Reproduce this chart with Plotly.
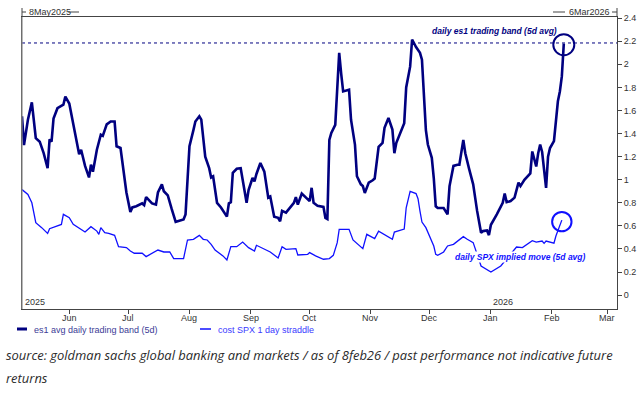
import plotly.graph_objects as go

# ---------------- data ----------------
es1_dates = [
    "2025-05-08","2025-05-09","2025-05-11","2025-05-13","2025-05-15","2025-05-17","2025-05-19",
    "2025-05-21","2025-05-22","2025-05-23","2025-05-24","2025-05-26","2025-05-29","2025-05-30",
    "2025-06-01","2025-06-03","2025-06-06","2025-06-07","2025-06-09","2025-06-11","2025-06-12",
    "2025-06-13","2025-06-15","2025-06-17","2025-06-18","2025-06-20","2025-06-22","2025-06-24",
    "2025-06-25","2025-06-27","2025-06-29","2025-06-30",
    "2025-07-02","2025-07-03","2025-07-05","2025-07-08","2025-07-09","2025-07-10","2025-07-13",
    "2025-07-15","2025-07-16","2025-07-18","2025-07-19","2025-07-21","2025-07-23","2025-07-25",
    "2025-07-26","2025-07-29","2025-07-30",
    "2025-08-01","2025-08-03","2025-08-04","2025-08-06","2025-08-07","2025-08-09","2025-08-11",
    "2025-08-12","2025-08-13","2025-08-15","2025-08-17","2025-08-20","2025-08-21","2025-08-22",
    "2025-08-23","2025-08-25","2025-08-27","2025-08-28","2025-08-30","2025-08-31",
    "2025-09-02","2025-09-03","2025-09-04","2025-09-06","2025-09-08","2025-09-10","2025-09-11",
    "2025-09-13","2025-09-15","2025-09-16","2025-09-17","2025-09-19","2025-09-21","2025-09-23",
    "2025-09-24","2025-09-25","2025-09-27","2025-09-29",
    "2025-10-01","2025-10-02","2025-10-03","2025-10-05","2025-10-08","2025-10-09","2025-10-10",
    "2025-10-11","2025-10-12","2025-10-14","2025-10-15","2025-10-16","2025-10-17","2025-10-18",
    "2025-10-21","2025-10-22","2025-10-24","2025-10-25","2025-10-27","2025-10-28","2025-10-29",
    "2025-10-30","2025-10-31",
    "2025-11-02","2025-11-03","2025-11-05","2025-11-07","2025-11-08","2025-11-10","2025-11-12",
    "2025-11-13","2025-11-14","2025-11-16","2025-11-18","2025-11-19","2025-11-21","2025-11-22",
    "2025-11-24","2025-11-26","2025-11-27","2025-11-29","2025-11-30",
    "2025-12-02","2025-12-03","2025-12-04","2025-12-05","2025-12-08","2025-12-10","2025-12-11",
    "2025-12-13","2025-12-15","2025-12-16","2025-12-18","2025-12-19","2025-12-21","2025-12-22",
    "2025-12-23","2025-12-25","2025-12-27","2025-12-28","2025-12-30","2025-12-31",
    "2026-01-01","2026-01-04","2026-01-07","2026-01-08","2026-01-09","2026-01-11","2026-01-13",
    "2026-01-15","2026-01-16","2026-01-18","2026-01-21","2026-01-22","2026-01-23","2026-01-24",
    "2026-01-25","2026-01-26","2026-01-27","2026-01-28","2026-01-29","2026-01-30","2026-01-31",
    "2026-02-02","2026-02-03","2026-02-04","2026-02-05","2026-02-06","2026-02-07",
]
es1_values = [
    1.55, 1.30, 1.52, 1.67, 1.36, 1.33, 1.23, 1.10, 1.35, 1.33, 1.53, 1.62, 1.65, 1.72,
    1.66, 1.49, 1.22, 1.26, 1.12, 1.02, 1.13, 1.07, 1.26, 1.39, 1.38, 1.48, 1.505, 1.505,
    1.29, 1.275, 1.03, 0.89,
    0.72, 0.76, 0.77, 0.795, 0.78, 0.85, 0.795, 0.785, 0.89, 0.96, 0.90, 0.865, 0.745, 0.635,
    0.64, 0.655, 0.70,
    1.29, 1.43, 1.505, 1.55, 1.52, 1.20, 1.10, 1.02, 1.03, 0.80, 0.76, 0.68, 0.795, 0.805,
    1.06, 1.095, 1.10, 1.00, 0.80, 0.91,
    1.015, 0.985, 1.05, 1.145, 1.07, 0.845, 0.855, 0.68, 0.67, 0.64, 0.73, 0.715, 0.755, 0.80,
    0.85, 0.785, 0.88, 0.845,
    0.815, 0.93, 0.80, 0.775, 0.765, 0.67, 0.66, 1.345, 1.405, 1.475, 1.78, 2.10, 1.92, 1.765,
    1.78, 1.52, 1.305, 1.03, 0.96, 0.945, 0.885, 0.93, 0.975,
    0.995, 1.01, 1.285, 1.32, 1.45, 1.535, 1.435, 1.23, 1.32, 1.40, 1.49, 1.80, 1.98, 2.215,
    2.15, 2.10, 2.04, 1.43, 1.305,
    1.19, 1.015, 0.77, 0.755, 0.755, 0.70, 0.945, 1.12, 1.13, 1.13, 1.345, 1.23, 1.09, 1.03,
    0.96, 0.73, 0.54, 0.555, 0.56, 0.52,
    0.61, 0.70, 0.80, 0.88, 0.805, 0.815, 0.845, 0.975, 0.945, 1.00, 1.055, 1.245, 1.19, 1.115,
    1.23, 1.305, 1.24, 1.06, 0.93, 1.20, 1.275,
    1.335, 1.49, 1.68, 1.765, 1.895, 2.18,
]

spx_dates = [
    "2025-05-08","2025-05-11","2025-05-13","2025-05-15","2025-05-18","2025-05-21","2025-05-22",
    "2025-05-25","2025-05-28","2025-05-29",
    "2025-06-01","2025-06-03","2025-06-06","2025-06-09","2025-06-12","2025-06-15","2025-06-16",
    "2025-06-17","2025-06-19","2025-06-21","2025-06-24","2025-06-26","2025-06-30",
    "2025-07-02","2025-07-04","2025-07-08","2025-07-10","2025-07-13","2025-07-16","2025-07-19",
    "2025-07-22","2025-07-24","2025-07-29","2025-07-31",
    "2025-08-03","2025-08-06","2025-08-08","2025-08-10","2025-08-12","2025-08-14","2025-08-18",
    "2025-08-20","2025-08-22","2025-08-25","2025-08-28","2025-08-31",
    "2025-09-03","2025-09-04","2025-09-08","2025-09-11","2025-09-15","2025-09-17","2025-09-19",
    "2025-09-24","2025-09-25","2025-09-30",
    "2025-10-01","2025-10-04","2025-10-08","2025-10-11","2025-10-13","2025-10-15","2025-10-16",
    "2025-10-21","2025-10-23","2025-10-25","2025-10-28","2025-10-30",
    "2025-11-01","2025-11-03","2025-11-05","2025-11-07","2025-11-10","2025-11-12","2025-11-13",
    "2025-11-16","2025-11-18","2025-11-19","2025-11-21","2025-11-24","2025-11-25","2025-11-26",
    "2025-11-27","2025-11-29",
    "2025-12-01","2025-12-03","2025-12-04","2025-12-05","2025-12-08","2025-12-10","2025-12-13",
    "2025-12-16","2025-12-18","2025-12-20","2025-12-23","2025-12-27",
    "2026-01-01","2026-01-06","2026-01-14","2026-01-17","2026-01-22","2026-01-24","2026-01-27",
    "2026-01-28","2026-01-29",
    "2026-02-02","2026-02-03","2026-02-06",
]
spx_values = [
    0.915, 0.872, 0.80, 0.628, 0.585, 0.535, 0.576, 0.598, 0.613, 0.70,
    0.671, 0.613, 0.576, 0.547, 0.593, 0.555, 0.527, 0.585, 0.541, 0.535, 0.518, 0.42, 0.412,
    0.383, 0.363, 0.363, 0.334, 0.363, 0.391, 0.374, 0.374, 0.317, 0.317, 0.478,
    0.484, 0.518, 0.484, 0.478, 0.44, 0.39, 0.34, 0.305, 0.42, 0.42, 0.46, 0.412,
    0.383, 0.432, 0.397, 0.374, 0.322, 0.42, 0.397, 0.403, 0.348, 0.354,
    0.369, 0.34, 0.311, 0.317, 0.345, 0.455, 0.57, 0.57, 0.478, 0.449, 0.403, 0.527,
    0.512, 0.49, 0.555, 0.535, 0.507, 0.484, 0.547, 0.56, 0.573, 0.757, 0.90, 0.88, 0.836,
    0.728, 0.633, 0.585,
    0.498, 0.426, 0.354, 0.345, 0.374, 0.426, 0.44, 0.478, 0.507, 0.484, 0.455, 0.253,
    0.20, 0.253, 0.417, 0.412, 0.472, 0.46, 0.469, 0.449, 0.469,
    0.45, 0.512, 0.65,
]

month_ticks = ["2025-06-01","2025-07-01","2025-08-01","2025-09-01","2025-10-01","2025-11-01",
               "2025-12-01","2026-01-01","2026-02-01","2026-03-01"]
month_labels = ["Jun","Jul","Aug","Sep","Oct","Nov","Dec","Jan","Feb","Mar"]
y_ticks = [0, 0.2, 0.4, 0.6, 0.8, 1, 1.2, 1.4, 1.6, 1.8, 2, 2.2, 2.4]
y_labels = ["0","0.2","0.4","0.6","0.8","1","1.2","1.4","1.6","1.8","2","2.2","2.4"]
band_level = 2.185

series_names = ["es1 avg daily trading band (5d)", "cost SPX 1 day straddle"]
x_start, x_end = "2025-05-08", "2026-03-06"
start_label, end_label = "8May2025", "6Mar2026"
source_line1 = "source: goldman sachs global banking and markets / as of 8feb26 / past performance not indicative future"
source_line2 = "returns"

NAVY = "#000080"
BLUE = "#1010ff"
AX = "#444444"
TXT = "#333333"
FONT = "Liberation Sans"

fig = go.Figure()
fig.add_trace(go.Scatter(x=spx_dates, y=spx_values, mode="lines", name=series_names[1],
                         line=dict(color=BLUE, width=1.3), showlegend=False))
fig.add_trace(go.Scatter(x=es1_dates, y=es1_values, mode="lines", name=series_names[0],
                         line=dict(color=NAVY, width=2.6), showlegend=False))

W, H = 643, 398
L, R, T, B = 22, 617, 17, 309


def px(X):
    return (X - L) / (R - L)


def py(Y):
    return (B - Y) / (B - T)


shapes = []
# dotted reference line
shapes.append(dict(type="line", xref="paper", yref="y", x0=0, x1=1, y0=band_level, y1=band_level,
                   line=dict(color=NAVY, width=1, dash="dot")))
# circles
shapes.append(dict(type="circle", xref="x", yref="y", xsizemode="pixel", ysizemode="pixel",
                   xanchor="2026-02-07", yanchor=2.17, x0=-10.5, x1=10.5, y0=-10.5, y1=10.5,
                   line=dict(color=NAVY, width=2)))
shapes.append(dict(type="circle", xref="x", yref="y", xsizemode="pixel", ysizemode="pixel",
                   xanchor="2026-02-06", yanchor=0.637, x0=-9.7, x1=9.7, y0=-9.7, y1=9.7,
                   line=dict(color=BLUE, width=2)))
# left frame drawn lighter
shapes.append(dict(type="line", xref="paper", yref="paper", x0=0, x1=0, y0=0, y1=1,
                   line=dict(color="#8a8a8a", width=1.2)))
# top range markers
for (xa, xb) in [(22, 26), (68, 79), (553, 565), (612, 617)]:
    shapes.append(dict(type="line", xref="paper", yref="paper", x0=px(xa), x1=px(xb),
                       y0=py(12), y1=py(12), line=dict(color=AX, width=1)))
for xa in [22, 617]:
    shapes.append(dict(type="line", xref="paper", yref="paper", x0=px(xa), x1=px(xa),
                       y0=py(8), y1=py(16), line=dict(color=AX, width=1)))
# legend samples
shapes.append(dict(type="line", xref="paper", yref="paper", x0=px(17), x1=px(27),
                   y0=py(329), y1=py(329), line=dict(color=NAVY, width=3)))
shapes.append(dict(type="line", xref="paper", yref="paper", x0=px(200), x1=px(211),
                   y0=py(329), y1=py(329), line=dict(color=BLUE, width=1.5)))

annotations = [
    dict(text=start_label, xref="paper", yref="paper", x=px(27), y=py(12), xanchor="left",
         yanchor="middle", showarrow=False, font=dict(family=FONT, size=9, color=TXT)),
    dict(text=end_label, xref="paper", yref="paper", x=px(612), y=py(12), xanchor="right",
         yanchor="middle", showarrow=False, font=dict(family=FONT, size=9, color=TXT)),
    dict(text="2025", xref="paper", yref="paper", x=px(23), y=py(302), xanchor="left",
         yanchor="middle", showarrow=False, font=dict(family=FONT, size=9, color=TXT)),
    dict(text="2026", xref="x", yref="paper", x="2026-01-01", y=py(302), xanchor="left",
         yanchor="middle", showarrow=False, font=dict(family=FONT, size=9, color=TXT)),
    dict(text="<b><i>daily es1 trading band (5d avg)</i></b>", xref="paper", yref="paper",
         x=px(494), y=py(31), xanchor="center", yanchor="middle", showarrow=False,
         font=dict(family=FONT, size=8.5, color=NAVY)),
    dict(text="<b><i>daily SPX implied move (5d avg)</i></b>", xref="paper", yref="paper",
         x=px(520), y=py(257), xanchor="center", yanchor="middle", showarrow=False,
         bgcolor="white", borderpad=0,
         font=dict(family=FONT, size=8.5, color=BLUE)),
    dict(text=series_names[0], xref="paper", yref="paper", x=px(32), y=py(329.5), xanchor="left",
         yanchor="middle", showarrow=False, font=dict(family=FONT, size=9, color="#3c3c96")),
    dict(text=series_names[1], xref="paper", yref="paper", x=px(216), y=py(329.5), xanchor="left",
         yanchor="middle", showarrow=False, font=dict(family=FONT, size=9, color="#3a3aff")),
    dict(text="<i>" + source_line1 + "</i>", xref="paper", yref="paper", x=px(4), y=py(355),
         xanchor="left", yanchor="middle", showarrow=False,
         font=dict(family="Open Sans", size=12.95, color="#2b2b2b")),
    dict(text="<i>" + source_line2 + "</i>", xref="paper", yref="paper", x=px(4), y=py(378),
         xanchor="left", yanchor="middle", showarrow=False,
         font=dict(family="Open Sans", size=12.95, color="#2b2b2b")),
]
# month labels under the tick marks
for mt, ml in zip(month_ticks, month_labels):
    annotations.append(dict(text=ml, xref="x", yref="paper", x=mt, y=py(317.5),
                            xanchor="center", yanchor="middle", showarrow=False,
                            font=dict(family=FONT, size=9, color=TXT)))

fig.update_layout(
    width=W, height=H,
    margin=dict(l=L, r=W - R, t=T, b=H - B, pad=0, autoexpand=False),
    paper_bgcolor="white", plot_bgcolor="white",
    shapes=shapes, annotations=annotations,
    font=dict(family=FONT, size=9, color=TXT),
)
fig.update_xaxes(
    type="date", range=[x_start, x_end], tickvals=month_ticks, ticktext=month_labels,
    showticklabels=False,
    ticks="outside", ticklen=4, tickcolor=AX, showgrid=False, zeroline=False,
    showline=True, linecolor=AX, linewidth=1, mirror=True, automargin=False,
)
fig.update_yaxes(
    range=[-0.12, 2.41], side="right", tickvals=y_ticks, ticktext=y_labels,
    ticks="outside", ticklen=4, tickcolor=AX, showgrid=False, zeroline=False,
    showline=True, linecolor=AX, linewidth=1, mirror=True, automargin=False,
    tickfont=dict(family=FONT, size=9, color=TXT),
)

fig.write_html("out.html", config={"displayModeBar": False},
               post_script="document.body.style.margin='0';document.body.style.overflow='hidden';")
